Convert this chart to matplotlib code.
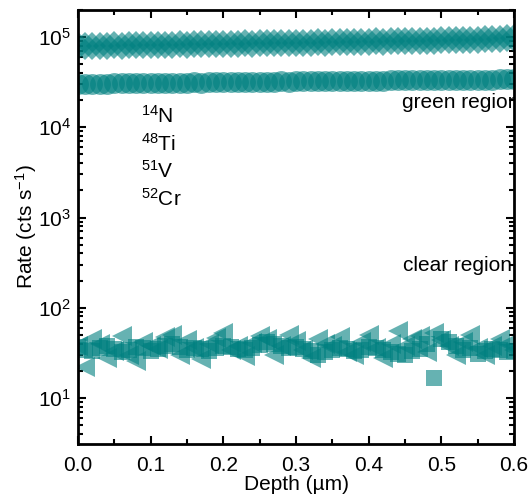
import numpy as np
import matplotlib.pyplot as plt

plt.rcParams['font.family'] = ['Liberation Sans', 'DejaVu Sans']
plt.rcParams['mathtext.fontset'] = 'custom'
plt.rcParams['mathtext.rm'] = 'Liberation Sans'
plt.rcParams['mathtext.it'] = 'Liberation Sans'

# Profondità (um)
depth = np.round(np.arange(0, 0.601, 0.01), 2)

# Segnali (cts/s)
ti48 = [79000, 80000, 79500, 80500, 80000, 81000, 80500, 81500, 81000, 82000,
        81500, 82000, 82500, 82000, 83000, 82500, 83500, 83000, 84000, 83500,
        84000, 84500, 84000, 85000, 84500, 85500, 85000, 86000, 85500, 86500,
        86000, 87000, 86500, 87500, 87000, 88000, 87500, 88500, 88000, 89000,
        88500, 89500, 89000, 90000, 89500, 90500, 90000, 91000, 91500, 91000,
        92000, 92500, 92000, 93000, 93500, 94000, 94500, 95000, 96000, 97000, 98000]
n14 = [30000, 30200, 30300, 30500, 30400, 30600, 30700, 30600, 30800, 30900,
       31000, 30900, 31100, 31200, 31100, 31300, 31400, 31300, 31500, 31600,
       31500, 31700, 31800, 31700, 31900, 32000, 31900, 32100, 32200, 32100,
       32300, 32400, 32300, 32500, 32400, 32600, 32700, 32600, 32800, 32900,
       32800, 33000, 32900, 33100, 33200, 33100, 33300, 33200, 33400, 33300,
       33500, 33400, 33600, 33500, 33700, 33600, 33800, 33700, 33900, 34000, 34000]
v51 = [38, 22, 45, 40, 28, 33, 48, 30, 26, 42, 38, 35, 47, 50, 30, 44, 36, 27,
       40, 46, 52, 34, 38, 29, 41, 48, 45, 30, 38, 50, 43, 34, 28, 45, 40, 38,
       47, 32, 30, 42, 50, 36, 28, 40, 55, 38, 45, 48, 32, 52, 44, 38, 30, 42,
       50, 36, 30, 38, 45, 40, 34]
cr52 = [37, 34, 33, 36, 38, 35, 32, 34, 37, 36, 33, 35, 38, 40, 37, 34, 36, 35,
        33, 36, 38, 37, 35, 34, 36, 39, 42, 40, 38, 36, 37, 35, 33, 30, 32, 34,
        36, 35, 33, 34, 37, 36, 34, 32, 31, 30, 33, 35, 40, 16.5, 45, 42, 38, 34,
        36, 31, 33, 35, 34, 32, 33]

col = '#008080'

fig = plt.figure(figsize=(5.3, 4.97), dpi=100)
ax = fig.add_axes([0.147, 0.107, 0.823, 0.873])

ax.plot(depth, ti48, 'D', color=col, alpha=0.6, markersize=14, markeredgewidth=0)
ax.plot(depth, n14, 'o', color=col, alpha=0.6, markersize=15, markeredgewidth=0)
ax.plot(depth, v51, '<', color=col, alpha=0.6, markersize=15, markeredgewidth=0)
ax.plot(depth, cr52, 's', color=col, alpha=0.6, markersize=12, markeredgewidth=0)

ax.set_yscale('log')
ax.set_xlim(0, 0.6)
ax.set_ylim(3.1, 2.0e5)
ax.set_xticks(np.arange(0, 0.61, 0.1))
ax.set_xticks(np.arange(0.05, 0.6, 0.1), minor=True)
ax.set_xticklabels(['0.0', '0.1', '0.2', '0.3', '0.4', '0.5', '0.6'])

ax.tick_params(which='both', direction='in', top=True, right=True, labelsize=15, width=1.5)
ax.tick_params(which='major', length=6)
ax.tick_params(which='minor', length=3.5)
ax.tick_params(axis='x', pad=9)
ax.tick_params(axis='y', pad=5)
for s in ax.spines.values():
    s.set_linewidth(2)

ax.set_xlabel('Depth (µm)', fontsize=15, labelpad=0)
ax.set_ylabel(r'Rate (cts s$^{-1}$)', fontsize=15, labelpad=-1)

# Etichette
labels = [r'$^{14}$N', r'$^{48}$Ti', r'$^{51}$V', r'$^{52}$Cr']
for i, lab in enumerate(labels):
    ax.text(0.145, 0.757 - i * 0.0645, lab, transform=ax.transAxes, fontsize=15, va='center')

ax.text(1.012, 0.787, 'green region', transform=ax.transAxes, fontsize=15,
        ha='right', va='center', clip_on=True)
ax.text(0.995, 0.41, 'clear region', transform=ax.transAxes, fontsize=15,
        ha='right', va='center', clip_on=True)

fig.savefig('out.png', dpi=100)
